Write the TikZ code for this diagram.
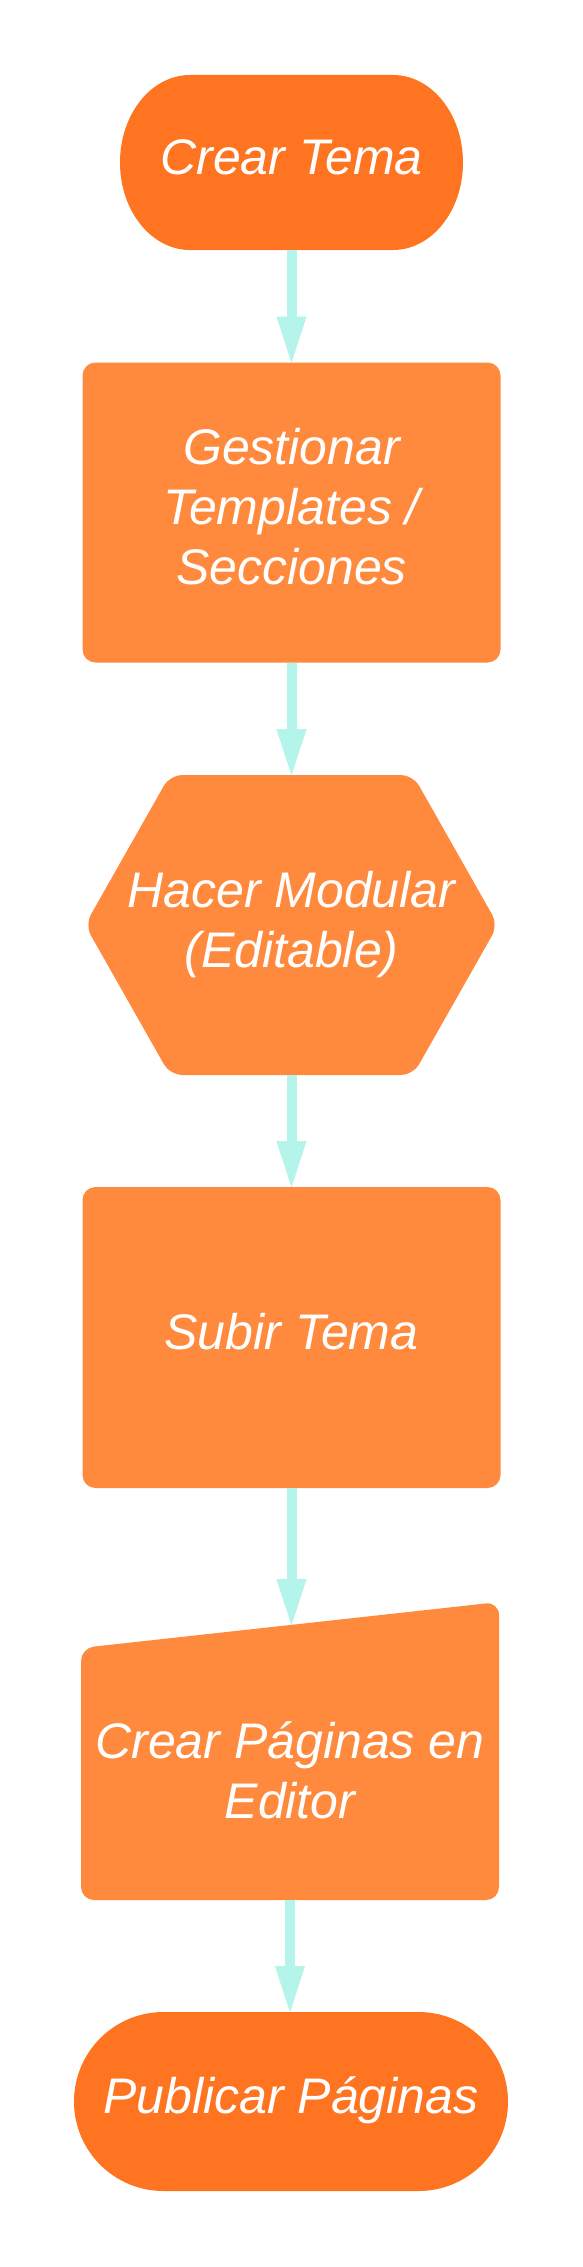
\documentclass[tikz,border=0pt]{standalone}
\usepackage{fontspec}
\setmainfont{Liberation Sans}
\usetikzlibrary{arrows.meta,shapes.misc}
\definecolor{darkor}{HTML}{FF7420}
\definecolor{lightor}{HTML}{FF8A3D}
\definecolor{flowc}{HTML}{B5F4EA}
\begin{document}
\begin{tikzpicture}[x=1pt,y=-1pt,
  lbl/.style={text=white, font=\fontsize{50}{60}\selectfont\itshape, align=center, inner sep=0pt, outer sep=0pt},
  flow/.style={draw=flowc, line width=10pt, -{Triangle[length=46pt,width=30pt,line width=0.01pt]}},
  lightbox/.style={lbl, fill=lightor, rounded corners=13pt, minimum width=418pt},
]
\useasboundingbox[fill=white] (0,0) rectangle (583,2267);
% shapes drawn directly
\fill[darkor] (190,75) -- (393,75) arc[start angle=-90,end angle=90,x radius=70,y radius=87.5] -- (190,250) arc[start angle=90,end angle=270,x radius=70,y radius=87.5] -- cycle;
\fill[lightor, rounded corners=12pt] (85,925) -- (170,775) -- (413,775) -- (498,925) -- (413,1075) -- (170,1075) -- cycle;
\fill[lightor, rounded corners=13pt] (81,1648) -- (499,1602) -- (499,1900) -- (81,1900) -- cycle;
% nodes
\node[lbl, minimum width=343pt, minimum height=175pt] (n1) at (291.5,162.5) {\strut Crear Tema};
\node[lightbox, minimum height=300pt] (n2) at (291.5,512.5) {\strut Gestionar\\\strut Templates /\\\strut Secciones};
\node[lbl, minimum width=413pt, minimum height=300pt] (n3) at (291.5,925) {\strut Hacer Modular\\\strut (Editable)};
\node[lightbox, minimum height=301pt] (n4) at (291.5,1337.5) {\strut Subir Tema};
\node[lbl, minimum width=418pt, minimum height=248pt] (n5) at (290,1776) {\strut Crear Páginas en\\\strut Editor};
\coordinate (n5in) at (291.5,1625);
\node[lbl, rounded rectangle, fill=darkor, minimum width=434pt, minimum height=179pt] (n6) at (291,2101.5) {\strut Publicar Páginas};
% connectors
\draw[flow] (n1.south) -- (n2.north);
\draw[flow] (n2.south) -- (n3.north);
\draw[flow] (n3.south) -- (n4.north);
\draw[flow] (n4.south) -- (n5in);
\draw[flow] (n5.south) -- (n5.south |- n6.north);
\end{tikzpicture}
\end{document}
